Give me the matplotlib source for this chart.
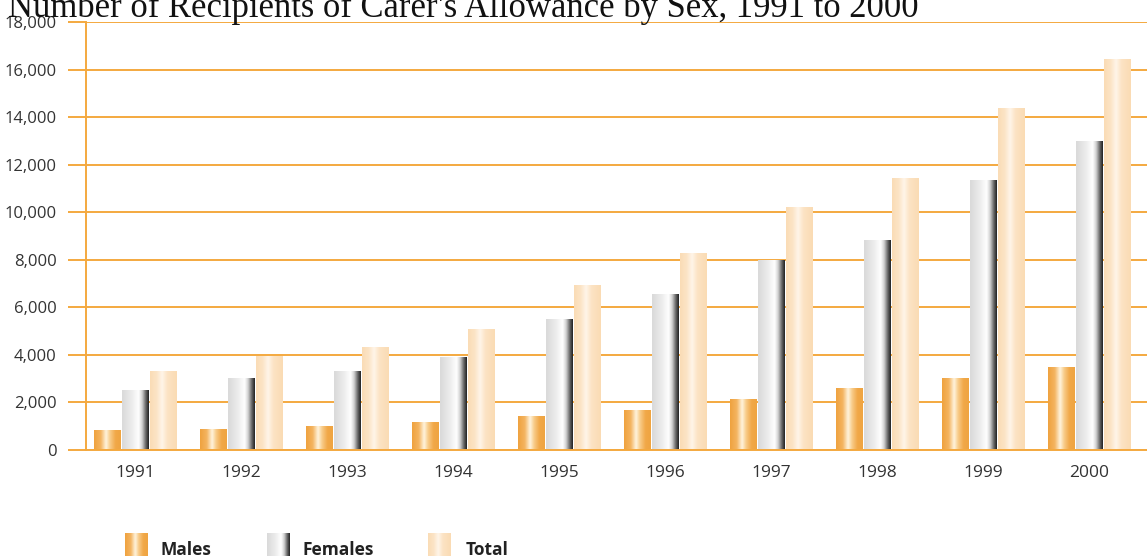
import numpy as np
import matplotlib
matplotlib.use("Agg")
import matplotlib.pyplot as plt
from matplotlib.colors import LinearSegmentedColormap
from matplotlib.ticker import FuncFormatter

years = ["1991", "1992", "1993", "1994", "1995", "1996", "1997", "1998", "1999", "2000"]
males = [800, 880, 970, 1140, 1390, 1680, 2140, 2570, 2990, 3450]
females = [2520, 2990, 3320, 3910, 5470, 6560, 7990, 8790, 11350, 12990]
total = [3320, 3950, 4290, 5050, 6900, 8280, 10180, 11400, 14380, 16440]
series_names = ["Males", "Females", "Total"]

title = "Number of Recipients of Carer's Allowance by Sex, 1991 to 2000"

ORANGE = "#F4A93F"
SANS = ["Open Sans", "DejaVu Sans"]

cmaps = {
    "Males": LinearSegmentedColormap.from_list("m", [
        (0.0, "#EFA23E"), (0.25, "#F4B460"), (0.45, "#FFF4DE"),
        (0.6, "#F8CB88"), (0.8, "#F1A848"), (1.0, "#EFA441")]),
    "Females": LinearSegmentedColormap.from_list("f", [
        (0.0, "#D9D9D9"), (0.35, "#EBEBEB"), (0.62, "#FFFFFF"),
        (0.75, "#D0D0D0"), (0.88, "#6A6A6A"), (1.0, "#1E1E1E")]),
    "Total": LinearSegmentedColormap.from_list("t", [
        (0.0, "#FADCB5"), (0.25, "#FCE4C6"), (0.45, "#FFF5E9"),
        (0.65, "#FCE3C4"), (1.0, "#FADBB3")]),
}
grad = np.linspace(0, 1, 256).reshape(1, -1)

W, H = 1147, 556
fig = plt.figure(figsize=(W / 100, H / 100), dpi=100)
ax = fig.add_axes([86 / W, (H - 450) / H, 1 - 86 / W, (450 - 22) / H])

x = np.arange(len(years))
bw = 0.25
off = 0.265
data = {"Males": males, "Females": females, "Total": total}
for i, name in enumerate(series_names):
    bars = ax.bar(x + (i - 1) * off, data[name], width=bw, color="none", zorder=2)
    for b in bars:
        x0, y0 = b.get_x(), b.get_y()
        ax.imshow(grad, cmap=cmaps[name], aspect="auto", interpolation="bicubic",
                  extent=(x0, x0 + b.get_width(), y0, y0 + b.get_height()), zorder=2)

ax.set_xlim(-0.462, 9.547)
ax.set_ylim(0, 18000)
ax.set_yticks(np.arange(0, 18001, 2000))
ax.yaxis.set_major_formatter(FuncFormatter(lambda v, p: f"{int(v):,}"))
ax.set_xticks(x)
ax.set_xticklabels(years)
ax.grid(axis="y", color=ORANGE, linewidth=1.4, zorder=1)
ax.set_axisbelow(True)
for s in ["top", "right"]:
    ax.spines[s].set_visible(False)
ax.spines["left"].set_color(ORANGE)
ax.spines["left"].set_linewidth(1.4)
ax.spines["bottom"].set_color(ORANGE)
ax.spines["bottom"].set_linewidth(1.4)
ax.spines["bottom"].set_zorder(3)
ax.tick_params(axis="y", length=13, width=1.4, color=ORANGE, pad=8,
               labelsize=12, labelcolor="#333333")
ax.tick_params(axis="x", length=0, pad=11, labelsize=12.5, labelcolor="#333333")
for lab in ax.get_xticklabels() + ax.get_yticklabels():
    lab.set_fontfamily(SANS)

fig.text(8 / W, 1 - 17 / H, title, family="Liberation Serif", fontsize=24.9,
         color="#111111", va="baseline", ha="left")

# legend
leg_pos = [(125, 160), (267, 303), (428, 466)]
for name, (px, tx) in zip(series_names, leg_pos):
    lax = fig.add_axes([px / W, 0, 23 / W, (H - 533) / H])
    lax.imshow(grad, cmap=cmaps[name], aspect="auto", interpolation="bicubic",
               extent=(0, 1, 0, 1))
    lax.set_axis_off()
    fig.text(tx / W, 1 - 555 / H, name, family=SANS, fontweight="bold",
             fontsize=12.5, color="#222222", va="baseline", ha="left")

fig.savefig("out.png", dpi=100)
